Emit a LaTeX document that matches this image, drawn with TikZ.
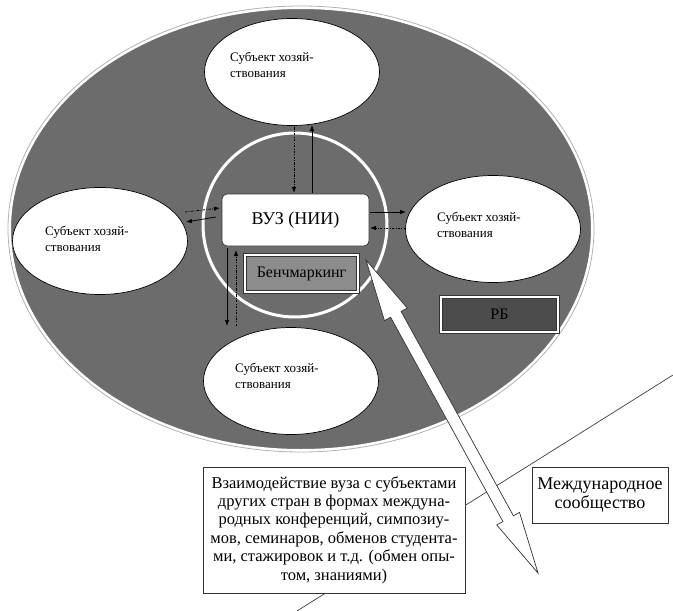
\documentclass[tikz,border=0pt]{standalone}
\usepackage{fontspec}
\setmainfont{Liberation Serif}
\usetikzlibrary{calc,arrows.meta,shapes.geometric}
\definecolor{bggray}{RGB}{108,108,108}
\definecolor{benchgray}{RGB}{140,140,140}
\definecolor{rbgray}{RGB}{76,76,76}
\begin{document}
\begin{tikzpicture}[x=1pt,y=-1pt,
  subj/.style={ellipse, draw=black, fill=white, line width=0.7pt, inner sep=0pt, minimum width=175pt, minimum height=107pt},
  subjtext/.style={anchor=west, align=left, font=\fontsize{13}{15.5}\selectfont, inner sep=0pt},
  framedbox/.style={draw=black!80, double=white, double distance=2.6pt, line width=0.5pt, inner sep=0pt},
  plainbox/.style={draw=black!80, fill=white, line width=0.7pt, inner sep=0pt, align=center},
  solidarr/.style={-{Latex[length=6pt,width=4.5pt]}, line width=0.8pt, black},
  dotarr/.style={-{Latex[length=6pt,width=4.5pt]}, line width=0.8pt, black, dash pattern=on 2.5pt off 1.3pt on 0.8pt off 1.3pt},
]
\useasboundingbox (0,0) rectangle (673,611);
\fill[white] (0,0) rectangle (673,611);

% big ellipse (RB)
\draw[black!30, line width=0.8pt] (301,229) ellipse [x radius=293, y radius=223];
\node[ellipse, fill=bggray, draw=white, line width=2pt, inner sep=0pt, minimum width=582pt, minimum height=442pt] (world) at (301,229) {};

% inner ring
\node[circle, draw=white, line width=3pt, inner sep=0pt, minimum size=184pt] (ring) at (295,225) {};

% subject ellipses
\node[subj] (stop) at (292,72) {};
\node[subj] (sleft) at (100,241) {};
\node[subj] (sright) at (493,229) {};
\node[subj] (sbot) at (291,381) {};
\node[subjtext] (ttop) at (230,65) {Субъект хозяй-\\ствования};
\node[subjtext] (tleft) at (45,239) {Субъект хозяй-\\ствования};
\node[subjtext] (tright) at (437,225) {Субъект хозяй-\\ствования};
\node[subjtext] (tbot) at (235,376) {Субъект хозяй-\\ствования};

% VUZ box
\node[draw=black!80, fill=white, rounded corners=5pt, line width=0.7pt, minimum width=147pt, minimum height=52pt, inner sep=0pt, font=\fontsize{18}{20}\selectfont] (vuz) at (295.5,220) {ВУЗ (НИИ)};

% Benchmarking box
\node[framedbox, fill=benchgray, minimum width=113pt, minimum height=37pt, font=\fontsize{16}{18}\selectfont] (bench) at (301.5,273.5) {Бенчмаркинг};

% RB box
\node[framedbox, fill=rbgray, minimum width=117pt, minimum height=35pt, font=\fontsize{16}{18}\selectfont] (rbbox) at (499.5,314.5) {РБ};

% small arrows
\coordinate (a1s) at (294,127); \coordinate (a1e) at (294,193);
\coordinate (a2s) at (312,193); \coordinate (a2e) at (312,125);
\draw[dotarr] (a1s) -- (a1e);
\draw[solidarr] (a2s) -- (a2e);
\coordinate (a3s) at (185,212); \coordinate (a3e) at (220,208);
\coordinate (a4s) at (216,217); \coordinate (a4e) at (186,222);
\draw[dotarr] (a3s) -- (a3e);
\draw[solidarr] (a4s) -- (a4e);
\coordinate (a5s) at (370,212); \coordinate (a5e) at (406,212);
\coordinate (a6s) at (406,228); \coordinate (a6e) at (370,228);
\draw[solidarr] (a5s) -- (a5e);
\draw[dotarr] (a6s) -- (a6e);
\coordinate (a7s) at (227,248); \coordinate (a7e) at (227,326);
\coordinate (a8s) at (236,326); \coordinate (a8e) at (236,250);
\draw[solidarr] (a7s) -- (a7e);
\draw[dotarr] (a8s) -- (a8e);

% boundary of international community
\coordinate (l1) at (673,375); \coordinate (l2) at (297,611);
\draw[black!75, line width=0.7pt] (l1) -- (l2);

% big double arrow
\coordinate (ba) at (366,260); \coordinate (bb) at (538,573);
\coordinate (h1) at ($(ba)!62pt!(bb)$);
\coordinate (h2) at ($(bb)!62pt!(ba)$);
\filldraw[fill=white, draw=black!80, line width=0.7pt]
  (ba) -- ($(h1)!13pt!90:(bb)$) -- ($(h1)!6pt!90:(bb)$) -- ($(h2)!6pt!-90:(ba)$)
  -- ($(h2)!13pt!-90:(ba)$) -- (bb) -- ($(h2)!13pt!90:(ba)$) -- ($(h2)!6pt!90:(ba)$)
  -- ($(h1)!6pt!-90:(bb)$) -- ($(h1)!13pt!-90:(bb)$) -- cycle;

% text boxes
\node[plainbox, minimum width=262pt, minimum height=126pt, font=\fontsize{16.5}{18.4}\selectfont] (inter) at (334,530)
  {Взаимодействие вуза с субъектами\\
   других стран в формах междуна-\\
   родных конференций, симпозиу-\\
   мов, семинаров, обменов студента-\\
   ми, стажировок и т.д. (обмен опы-\\
   том, знаниями)};
\node[plainbox, minimum width=136pt, minimum height=56pt, font=\fontsize{18}{19}\selectfont] (comm) at (600,495)
  {Международное\\сообщество};
\end{tikzpicture}
\end{document}
